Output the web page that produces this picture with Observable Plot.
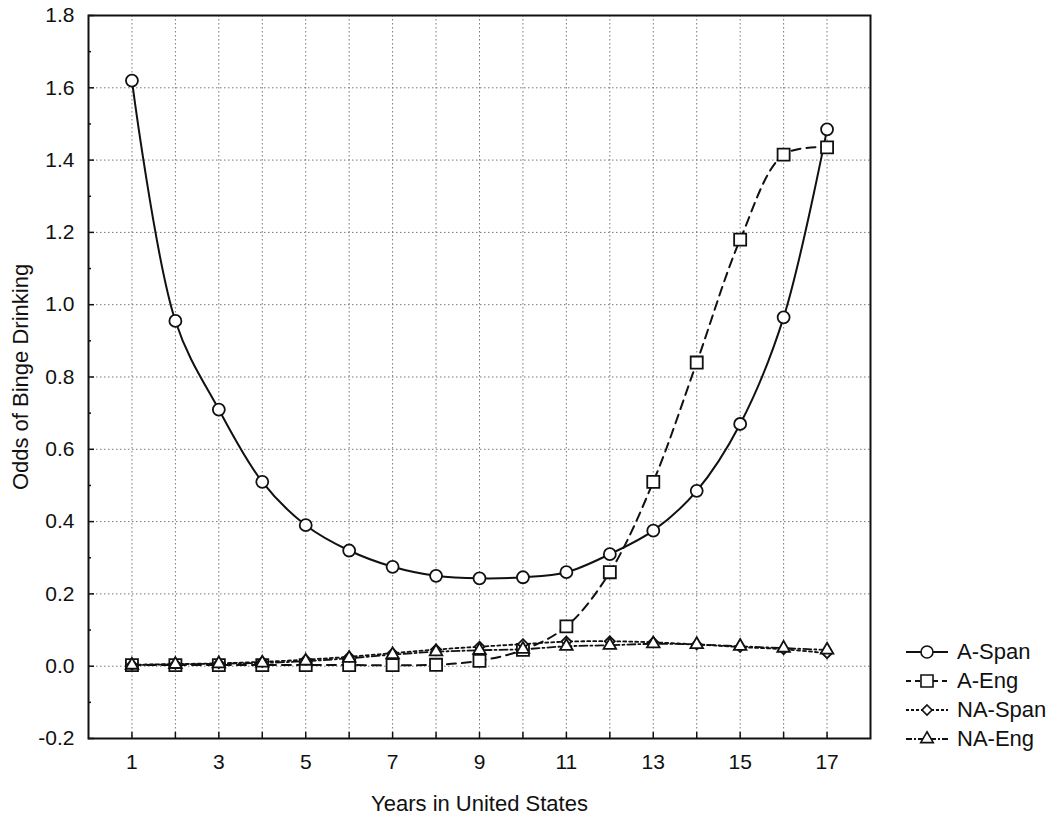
<!DOCTYPE html>
<html><head>
<meta charset="utf-8">
<script src="https://cdn.jsdelivr.net/npm/d3@7"></script>
<script src="https://cdn.jsdelivr.net/npm/@observablehq/plot@0.6"></script>
<style>
body{margin:0;background:#fff;}
#wrap{position:relative;width:1050px;height:825px;font-family:"Liberation Sans",Arial,Helvetica,sans-serif;}
#legend{position:absolute;left:905px;top:637px;font-size:22px;color:#111;}
#legend .row{display:flex;align-items:center;height:29px;}
#legend svg{margin-right:8px;}
</style>
</head><body><div id="wrap"><div id="legend"></div></div>
<script>
// ---- data ----
const years = [1,2,3,4,5,6,7,8,9,10,11,12,13,14,15,16,17];
const aSpan  = [1.62,0.955,0.71,0.51,0.39,0.32,0.275,0.25,0.243,0.246,0.26,0.31,0.375,0.485,0.67,0.965,1.485];
const aEng   = [0.003,0.003,0.003,0.003,0.003,0.003,0.003,0.004,0.015,0.045,0.11,0.26,0.51,0.84,1.18,1.415,1.435];
const naSpan = [0.004,0.006,0.008,0.012,0.018,0.026,0.036,0.046,0.054,0.061,0.068,0.069,0.066,0.06,0.053,0.047,0.036];
const naEng  = [0.003,0.005,0.007,0.009,0.014,0.022,0.032,0.04,0.044,0.047,0.055,0.058,0.062,0.06,0.055,0.05,0.045];
const seriesNames = ["A-Span","A-Eng","NA-Span","NA-Eng"];
const xTicks = [1,2,3,4,5,6,7,8,9,10,11,12,13,14,15,16,17];
const xLabels = [1,3,5,7,9,11,13,15,17];
const yMajor = [-0.2,0,0.2,0.4,0.6,0.8,1.0,1.2,1.4,1.6,1.8];
const yMinor = [-0.1,0.1,0.3,0.5,0.7,0.9,1.1,1.3,1.5,1.7];

const toRows = (vals) => years.map((yr, i) => ({year: yr, value: vals[i]}));
const dA = toRows(aSpan), dE = toRows(aEng), dNS = toRows(naSpan), dNE = toRows(naEng);

const grid = {stroke: "#777", strokeOpacity: 1, strokeDasharray: "1.5,2.5", strokeWidth: 1};
const lineBase = {x: "year", y: "value", stroke: "#111", strokeWidth: 2, curve: "catmull-rom"};
const dotBase = {x: "year", y: "value", fill: "white", stroke: "#111", strokeWidth: 1.8};

const chart = Plot.plot({
  width: 1050, height: 825,
  marginLeft: 88, marginRight: 180, marginTop: 15, marginBottom: 87,
  style: {fontFamily: '"Liberation Sans",Arial,Helvetica,sans-serif', fontSize: "21px", color: "#111", background: "white"},
  x: {domain: [0, 18]},
  y: {domain: [-0.2, 1.8]},
  marks: [
    Plot.gridX(xTicks, grid),
    Plot.gridY(yMajor.filter(v => v > -0.2 && v < 1.8), grid),
    Plot.axisX(xTicks, {tickSize: -6, text: null, strokeWidth: 1.5, label: null}),
    Plot.axisX(xLabels, {tickSize: 0, tickPadding: 16, label: "Years in United States", labelAnchor: "center", labelOffset: 72, labelArrow: "none", fontSize: 21}),
    Plot.axisY(yMajor, {tickSize: -6, text: null, strokeWidth: 1.5, label: null}),
    Plot.axisY(yMinor, {tickSize: -3, text: null, strokeWidth: 1.5, label: null}),
    Plot.axisY(yMajor, {tickSize: 0, tickPadding: 14, tickFormat: d => d.toFixed(1), label: "Odds of Binge Drinking", labelAnchor: "center", labelOffset: 76, labelArrow: "none", fontSize: 21}),
    Plot.frame({stroke: "#111", strokeWidth: 2}),
    Plot.line(dA, {...lineBase}),
    Plot.line(dE, {...lineBase, strokeDasharray: "9,6"}),
    Plot.line(dNS, {...lineBase, strokeWidth: 1.8, strokeDasharray: "3,3"}),
    Plot.line(dNE, {...lineBase, strokeWidth: 1.8, strokeDasharray: "8,3,2,3"}),
    Plot.dot(dA, {...dotBase, symbol: "circle", r: 6}),
    Plot.dot(dE, {...dotBase, symbol: "square", r: 6.8}),
    Plot.dot(dNS, {...dotBase, symbol: "diamond2", r: 4.5}),
    Plot.dot(dNE, {...dotBase, symbol: "triangle2", r: 6})
  ]
});
document.getElementById("wrap").prepend(chart);
// axis titles slightly larger, as in the reference
d3.select(chart).selectAll('g[aria-label="x-axis label"], g[aria-label="y-axis label"]').attr("font-size", 22);

// legend
const styles = [
  {dash: null, sym: d3.symbolCircle, size: Math.PI * 36},
  {dash: "5,4", sym: d3.symbolSquare, size: Math.PI * 6.8 * 6.8},
  {dash: "3,2", sym: d3.symbolDiamond2, size: Math.PI * 4.5 * 4.5},
  {dash: "6,2,2,2", sym: d3.symbolTriangle2, size: Math.PI * 36}
];
const legend = d3.select("#legend");
seriesNames.forEach((name, i) => {
  const row = legend.append("div").attr("class", "row");
  const svg = row.append("svg").attr("width", 44).attr("height", 22);
  svg.append("line").attr("x1", 1).attr("x2", 43).attr("y1", 11).attr("y2", 11)
    .attr("stroke", "#111").attr("stroke-width", 2).attr("stroke-dasharray", styles[i].dash);
  svg.append("path").attr("transform", "translate(22,11)")
    .attr("d", d3.symbol(styles[i].sym, styles[i].size)())
    .attr("fill", "white").attr("stroke", "#111").attr("stroke-width", 1.6);
  row.append("span").text(name);
});
</script>
</body></html>
